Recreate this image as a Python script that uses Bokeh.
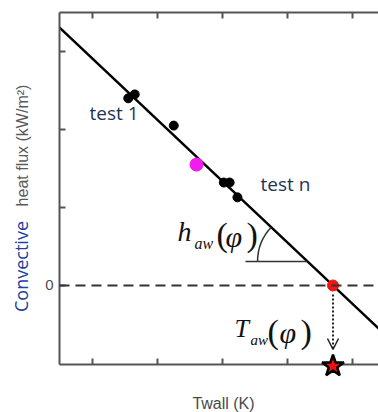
from math import pi, atan

from bokeh.core.properties import value
from bokeh.embed import file_html
from bokeh.models import (Arrow, FixedTicker, Label, LinearAxis, OpenHead,
                          Range1d, Span)
from bokeh.plotting import figure
from bokeh.resources import INLINE

# Convective heat flux measured at several wall temperatures (tick step = 1)
test_twall = [1.55, 1.65, 2.25, 3.02, 3.11, 3.23]
test_flux = [2.40, 2.45, 2.05, 1.32, 1.32, 1.13]
highlight_twall = [2.60]
highlight_flux = [1.55]

# Linear fit through the tests; it crosses zero flux at the adiabatic wall temperature
fit_twall = [0.49, 5.40]
fit_flux = [3.31, -0.55]
taw = [4.70]
zero_flux = [0.0]

x_ticks = [1, 2, 3, 4, 5]
y_labelled_ticks = [0]
y_plain_ticks = [1, 2, 3]

X_LO, X_HI = 0.4923, 5.40
Y_LO, Y_HI = -1.013, 3.50
PX_X, PX_Y = 65.0, 78.0  # pixels per unit on each axis


def sx(px):
    """Canvas pixel column -> wall temperature."""
    return X_LO + (px - 59) / PX_X


def sy(py):
    """Canvas pixel row -> heat flux."""
    return Y_HI - (py - 12) / PX_Y


p = figure(width=378, height=412, output_backend="svg", toolbar_location=None,
           x_range=Range1d(X_LO, X_HI), y_range=Range1d(Y_LO, Y_HI),
           x_axis_type=None, y_axis_type=None)
p.min_border_left = 59
p.min_border_right = 0
p.min_border_top = 12
p.min_border_bottom = 48
p.outline_line_color = None
p.background_fill_color = "white"
p.border_fill_color = "white"

AXIS_COLOR = "#555555"


def style_axis(ax):
    ax.axis_line_color = AXIS_COLOR
    ax.axis_line_width = 2
    for kind in ("major", "minor"):
        setattr(ax, f"{kind}_tick_line_color", AXIS_COLOR)
        setattr(ax, f"{kind}_tick_line_width", 2)
        setattr(ax, f"{kind}_tick_in", 6)
        setattr(ax, f"{kind}_tick_out", 0)
    return ax


def bare_axis(ticks):
    ax = LinearAxis(ticker=FixedTicker(ticks=ticks),
                    major_label_text_font_size="0px",
                    major_label_text_color=None,
                    major_label_standoff=0)
    return style_axis(ax)


bottom = bare_axis(x_ticks)
top = bare_axis(x_ticks)
left = style_axis(LinearAxis(ticker=FixedTicker(ticks=y_labelled_ticks,
                                                minor_ticks=y_plain_ticks),
                             major_label_text_font="Liberation Sans",
                             major_label_text_font_size="15px",
                             major_label_text_color="#4d4d4d",
                             major_label_standoff=6))
p.add_layout(left, "left")
p.add_layout(bottom, "below")
p.add_layout(top, "above")

# zero-flux reference
p.add_layout(Span(location=zero_flux[0], dimension="width", line_color="#333333",
                  line_width=1.8, line_dash="10 6"))

# fitted line
p.line(fit_twall, fit_flux, line_color="black", line_width=2.5)

# slope angle marker (h_aw) where the fit crosses a horizontal reference
slope = (fit_flux[1] - fit_flux[0]) / (fit_twall[1] - fit_twall[0])
ref_flux = 0.308
ref_twall = fit_twall[0] + (ref_flux - fit_flux[0]) / slope
p.line([sx(245), ref_twall], [ref_flux, ref_flux], line_color="#333333", line_width=1.5)
screen_angle = atan(-slope * PX_Y / PX_X)
p.arc(x=[ref_twall], y=[ref_flux], radius=50, radius_units="screen",
      start_angle=pi - screen_angle, end_angle=pi, direction="anticlock",
      line_color="#333333", line_width=1.5)

# test points
p.scatter(test_twall, test_flux, size=9, color="black")
p.scatter(highlight_twall, highlight_flux, size=13, color="#f01cf0")
p.scatter(taw, zero_flux, size=11, color="#f01515")

# projection down to the temperature axis
p.add_layout(Arrow(x_start=taw[0], y_start=sy(294), x_end=taw[0], y_end=sy(349),
                   line_color="#222222", line_width=2, line_dash="2 2",
                   end=OpenHead(size=11, line_color="#222222", line_width=1.5)))
star = p.scatter(taw, [Y_LO - 0.02], marker="star", size=23, fill_color="#ee1111",
                 line_color="black", line_width=2.5)
star.level = "overlay"


def text(px, py, s, font="Open Sans", size=19, color="#1f3355",
         style="normal", align="left", baseline="alphabetic"):
    if baseline == "alphabetic":
        py -= 0.38 * size
    p.add_layout(Label(x=sx(px), y=sy(py), text=s, text_font=font,
                       text_font_size=f"{size}px", text_color=color,
                       text_font_style=style, text_align=align,
                       text_baseline=baseline))


def outer_text(px, py, s, font, size, color, angle=0.0):
    """Centred text drawn in the margins around the frame."""
    r = p.text(x=[sx(px)], y=[sy(py)], text=[s], angle=angle,
               text_font=value(font), text_font_size=f"{size}px",
               text_color=color, text_align="center", text_baseline="middle")
    r.level = "overlay"


text(89, 119.5, "test 1")
text(260, 191, "test n")

SERIF = "Liberation Serif"
INK = "#111111"
# h_aw(phi)
text(177, 242, "h", SERIF, 28, INK, "italic")
text(194, 249, "aw", SERIF, 16, INK, "italic")
text(216, 247, "(", SERIF, 34, INK)
text(225, 247, "\u03c6", SERIF, 30, INK, "italic")
text(246, 247, ")", SERIF, 34, INK)
# T_aw(phi)
text(234, 338, "T", SERIF, 26, INK, "italic")
text(250, 345, "aw", SERIF, 15, INK, "italic")
text(267, 344, "(", SERIF, 34, INK)
text(279, 343, "\u03c6", SERIF, 30, INK, "italic")
text(300, 344, ")", SERIF, 34, INK)

# axis titles
outer_text(20.5, 266, "Convective", "Open Sans", 18, "#2140a0", angle=pi / 2)
outer_text(22, 145, "heat flux (kW/m\u00b2)", "Liberation Sans", 16, "#5a5a5a",
           angle=pi / 2)
outer_text(223, 403, "Twall (K)", "Liberation Sans", 16, "#4a4a4a")

open("out.html", "w").write(file_html(p, INLINE))
